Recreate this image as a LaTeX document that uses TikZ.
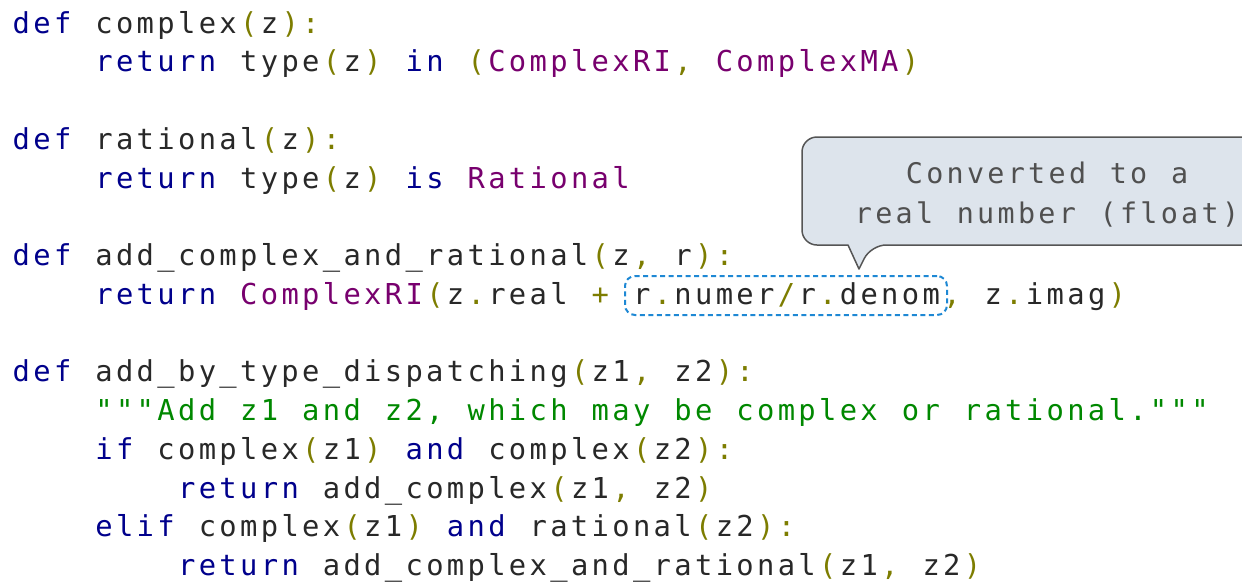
\documentclass[tikz,border=0pt]{standalone}
\usepackage{fontspec}
\newfontfamily\codefont{DejaVu Sans Mono}
\newdimen\cw \cw=20.68pt
\ExplSyntaxOn
\NewDocumentCommand\ch{m}{ \str_map_inline:nn {#1} { \hbox_to_wd:nn {\cw} { \hss ##1 \hss } } }
\ExplSyntaxOff
\newcommand{\chc}[1]{{\cw=20.4pt\relax\ch{#1}}}
\definecolor{kwc}{RGB}{0,0,140}
\definecolor{puc}{RGB}{125,125,0}
\definecolor{clc}{RGB}{120,0,110}
\definecolor{stc}{RGB}{0,136,0}
\definecolor{plainc}{RGB}{40,40,40}
\definecolor{callfill}{RGB}{221,228,236}
\definecolor{callborder}{RGB}{85,85,85}
\definecolor{calltextc}{RGB}{80,80,80}
\definecolor{hlc}{RGB}{30,136,212}
\newcommand{\kw}[1]{\textcolor{kwc}{\ch{#1}}}
\newcommand{\pu}[1]{\textcolor{puc}{\ch{#1}}}
\newcommand{\cl}[1]{\textcolor{clc}{\ch{#1}}}
\newcommand{\st}[1]{\textcolor{stc}{\ch{#1}}}
\tikzset{
  codeline/.style={anchor=base west, inner sep=0pt, outer sep=0pt,
    font=\codefont\fontsize{28.8}{38}\selectfont, text=plainc},
  calltext/.style={anchor=base, inner sep=0pt, outer sep=0pt,
    font=\codefont\fontsize{28.4}{38}\selectfont, text=calltextc},
  callbox/.style={draw=callborder, fill=callfill, line width=1.5pt, line join=round},
  hlbox/.style={draw=hlc, dash pattern=on 5pt off 3.5pt, line width=2pt,
    rounded corners=10pt, inner sep=0pt, minimum width=322pt, minimum height=39pt}
}
\begin{document}
\begin{tikzpicture}[x=1pt,y=-1pt]
\useasboundingbox (0,0) rectangle (1242,582);
\fill[white] (0,0) rectangle (1242,582);
\clip (0,0) rectangle (1242,582);
% code lines
\node[codeline] (l1) at (11,33) {\kw{def}\ch{ complex}\pu{(}\ch{z}\pu{):}};
\node[codeline] (l2) at (93.72,71.75) {\kw{return}\ch{ type}\pu{(}\ch{z}\pu{)}\ch{ }\kw{in}\ch{ }\pu{(}\cl{ComplexRI}\pu{,}\ch{ }\cl{ComplexMA}\pu{)}};
\node[codeline] (l4) at (11,149.25) {\kw{def}\ch{ rational}\pu{(}\ch{z}\pu{):}};
\node[codeline] (l5) at (93.72,188) {\kw{return}\ch{ type}\pu{(}\ch{z}\pu{)}\ch{ }\kw{is}\ch{ }\cl{Rational}};
\node[codeline] (l7) at (11,265.5) {\kw{def}\ch{ add_complex_and_rational}\pu{(}\ch{z}\pu{,}\ch{ r}\pu{):}};
\node[codeline] (l8) at (93.72,304.25) {\kw{return}\ch{ }\cl{ComplexRI}\pu{(}\ch{z}\pu{.}\ch{real }\pu{+}\ch{ r}\pu{.}\ch{numer}\pu{/}\ch{r}\pu{.}\ch{denom}\pu{,}\ch{ z}\pu{.}\ch{imag}\pu{)}};
\node[codeline] (l10) at (11,381.75) {\kw{def}\ch{ add_by_type_dispatching}\pu{(}\ch{z1}\pu{,}\ch{ z2}\pu{):}};
\node[codeline] (l11) at (93.72,420.5) {\st{"""Add z1 and z2, which may be complex or rational."""}};
\node[codeline] (l12) at (93.72,459.25) {\kw{if}\ch{ complex}\pu{(}\ch{z1}\pu{)}\ch{ }\kw{and}\ch{ complex}\pu{(}\ch{z2}\pu{):}};
\node[codeline] (l13) at (176.44,498) {\kw{return}\ch{ add_complex}\pu{(}\ch{z1}\pu{,}\ch{ z2}\pu{)}};
\node[codeline] (l14) at (93.72,536.75) {\kw{elif}\ch{ complex}\pu{(}\ch{z1}\pu{)}\ch{ }\kw{and}\ch{ rational}\pu{(}\ch{z2}\pu{):}};
\node[codeline] (l15) at (176.44,575.5) {\kw{return}\ch{ add_complex_and_rational}\pu{(}\ch{z1}\pu{,}\ch{ z2}\pu{)}};
% highlight box
\node[hlbox] (hl) at (786,295.5) {};
% callout
\coordinate (tip) at (859,269);
\draw[callbox, rounded corners=15pt] (802,190) -- (802,137) -- (1292,137) -- (1292,245) -- (871,245)
  [sharp corners] -- (tip) -- (848,245) -- (832,245) [rounded corners=15pt] -- (802,245) -- cycle;
\node[calltext] (ct1) at (1047,183) {\chc{Converted to a}};
\node[calltext] (ct2) at (1047,223) {\chc{real number (float)}};
\end{tikzpicture}
\end{document}
